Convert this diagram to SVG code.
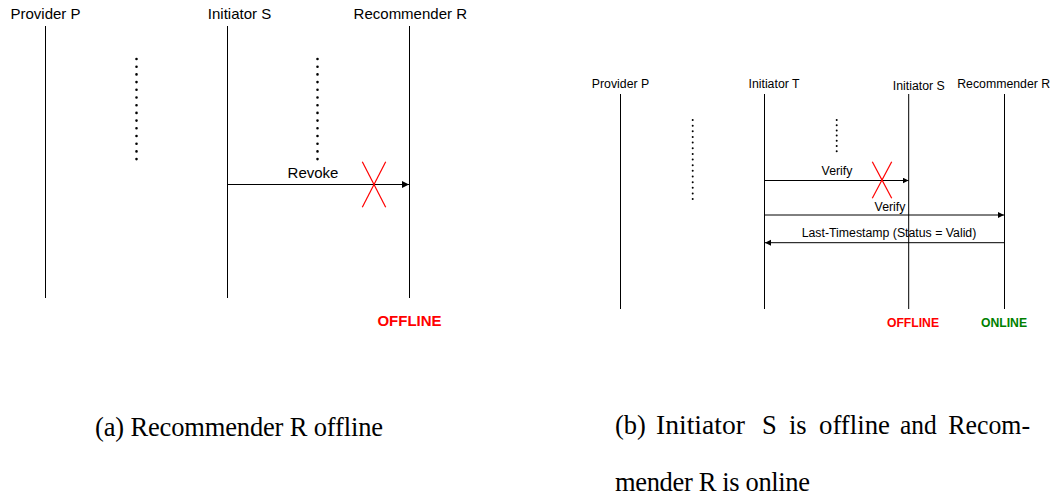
<svg xmlns="http://www.w3.org/2000/svg" width="1055" height="495" viewBox="0 0 1055 495">
  <style>
    .lbl { font-family: "Liberation Sans", Arial, sans-serif; fill: #000; text-anchor: middle; }
    .a { font-size: 15px; }
    .b { font-size: 12.3px; }
    .life { stroke: #000; stroke-width: 1; fill: none; }
    .msg { stroke: #000; stroke-width: 1; fill: none; }
    .cross { stroke: #ff0000; stroke-width: 1.2; fill: none; }
    .dotsA { stroke: #000; stroke-width: 2.6; stroke-linecap: round; stroke-dasharray: 0 7.7; fill: none; }
    .dotsB { stroke: #000; stroke-width: 2; stroke-linecap: round; fill: none; }
    .off { font-family: "Liberation Sans", Arial, sans-serif; font-weight: bold; fill: #ff0000; text-anchor: middle; }
    .on { font-family: "Liberation Sans", Arial, sans-serif; font-weight: bold; fill: #008000; text-anchor: middle; }
    .cap { font-family: "Liberation Serif", "DejaVu Serif", serif; font-size: 26.5px; fill: #000; }
  </style>
  <defs>
    <marker id="arrowA" markerUnits="userSpaceOnUse" markerWidth="8" markerHeight="8" refX="7" refY="3.5" orient="auto">
      <path d="M0,0 L7,3.5 L0,7 Z" fill="#000"/>
    </marker>
    <marker id="arrowB" markerUnits="userSpaceOnUse" markerWidth="8" markerHeight="8" refX="6" refY="3" orient="auto">
      <path d="M0,0 L6,3 L0,6 Z" fill="#000"/>
    </marker>
  </defs>

  <!-- Panel (a): Recommender R offline -->
  <g id="a-provider-p">
    <text class="lbl a" x="45.5" y="19">Provider P</text>
    <line class="life" x1="45.5" y1="26" x2="45.5" y2="298"/>
  </g>
  <g id="a-initiator-s">
    <text class="lbl a" x="239.5" y="19">Initiator S</text>
    <line class="life" x1="227.5" y1="26" x2="227.5" y2="298"/>
  </g>
  <g id="a-recommender-r">
    <text class="lbl a" x="410.3" y="19">Recommender R</text>
    <line class="life" x1="409.5" y1="26" x2="409.5" y2="298"/>
    <text class="off" style="font-size:15px" x="409.5" y="326">OFFLINE</text>
  </g>
  <g id="a-gaps">
    <line class="dotsA" x1="136.5" y1="59" x2="136.5" y2="159.5"/>
    <line class="dotsA" x1="317.5" y1="59" x2="317.5" y2="159.5"/>
  </g>
  <g id="a-connectors">
    <line class="msg" x1="227.5" y1="184.5" x2="409" y2="184.5" marker-end="url(#arrowA)"/>
    <text class="lbl a" x="313" y="178">Revoke</text>
    <line class="cross" x1="362.3" y1="161.7" x2="385.7" y2="207.3"/>
    <line class="cross" x1="385.7" y1="161.7" x2="362.3" y2="207.3"/>
  </g>

  <!-- Panel (b): Initiator S offline, Recommender R online -->
  <g id="b-provider-p">
    <text class="lbl b" x="620.5" y="88">Provider P</text>
    <line class="life" x1="620.5" y1="94" x2="620.5" y2="309"/>
  </g>
  <g id="b-initiator-t">
    <text class="lbl b" x="774" y="88">Initiator T</text>
    <line class="life" x1="764.5" y1="94" x2="764.5" y2="309"/>
  </g>
  <g id="b-initiator-s">
    <text class="lbl b" x="918.8" y="89.5">Initiator S</text>
    <line class="life" x1="908.7" y1="94" x2="908.7" y2="309"/>
    <text class="off" style="font-size:12.2px" x="913" y="327">OFFLINE</text>
  </g>
  <g id="b-recommender-r">
    <text class="lbl b" x="1003.7" y="88">Recommender R</text>
    <line class="life" x1="1004.5" y1="94" x2="1004.5" y2="309"/>
    <text class="on" style="font-size:12.2px" x="1004" y="327">ONLINE</text>
  </g>
  <g id="b-gaps">
    <line class="dotsB" style="stroke-dasharray:0 5.65" x1="692.7" y1="120" x2="692.7" y2="199.3"/>
    <line class="dotsB" style="stroke-dasharray:0 5.2" x1="836.7" y1="120" x2="836.7" y2="151.5"/>
  </g>
  <g id="b-connectors">
    <line class="msg" x1="764.5" y1="180.5" x2="908.5" y2="180.5" marker-end="url(#arrowB)"/>
    <text class="lbl b" x="837" y="174.5">Verify</text>
    <line class="cross" x1="872.3" y1="161.7" x2="891.7" y2="198.3"/>
    <line class="cross" x1="891.7" y1="161.7" x2="872.3" y2="198.3"/>
    <line class="msg" x1="764.5" y1="215" x2="1004" y2="215" marker-end="url(#arrowB)"/>
    <text class="lbl b" x="890" y="211">Verify</text>
    <line class="msg" x1="1004.5" y1="242.7" x2="765" y2="242.7" marker-end="url(#arrowB)"/>
    <text class="lbl b" x="889" y="237">Last-Timestamp (Status = Valid)</text>
  </g>

  <!-- Sub-figure captions -->
  <g id="captions">
    <text class="cap" x="95" y="435.5" textLength="288" lengthAdjust="spacing">(a) Recommender R offline</text>
    <text class="cap" x="615" y="433.5">(b)</text>
    <text class="cap" x="656" y="433.5" textLength="89" lengthAdjust="spacingAndGlyphs">Initiator</text>
    <text class="cap" x="762" y="433.5">S</text>
    <text class="cap" x="789" y="433.5">is</text>
    <text class="cap" x="819" y="433.5" textLength="71" lengthAdjust="spacingAndGlyphs">offline</text>
    <text class="cap" x="900" y="433.5" textLength="36.7" lengthAdjust="spacingAndGlyphs">and</text>
    <text class="cap" x="948.3" y="433.5" textLength="81.7" lengthAdjust="spacingAndGlyphs">Recom-</text>
    <text class="cap" x="615" y="490.7" textLength="195" lengthAdjust="spacing">mender R is online</text>
  </g>
</svg>
